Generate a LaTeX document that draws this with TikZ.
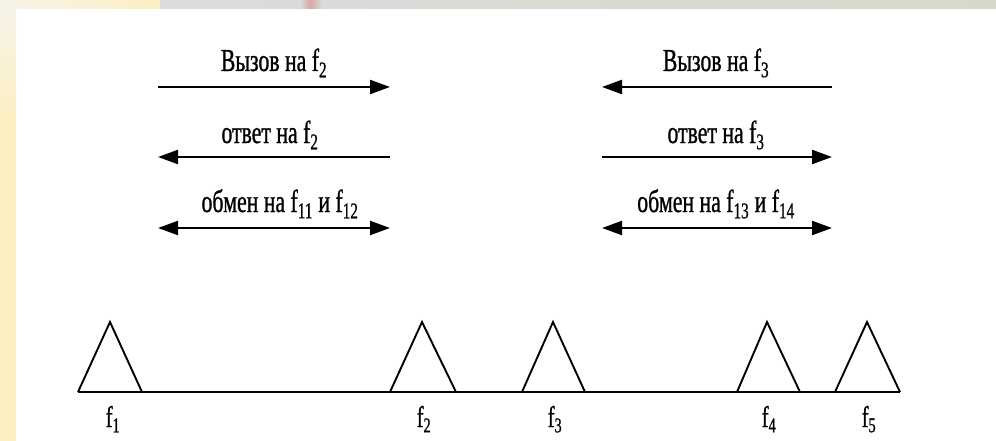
\documentclass[tikz,border=0pt]{standalone}
\usepackage{fontspec}
\setmainfont[FakeStretch=0.68,FakeBold=0.8]{Liberation Serif}
\usetikzlibrary{arrows.meta}
\definecolor{stripyellow}{HTML}{FBEFC2}
\definecolor{stripbeige}{HTML}{F7F2EA}
\definecolor{stripgrey}{HTML}{DADBDC}
\definecolor{stripred}{HTML}{D9A8A4}
\definecolor{stripgreen}{HTML}{D6D9CA}
\begin{document}
\begin{tikzpicture}[x=1pt,y=-1pt,
  msg/.style={line width=2.3pt, -{Triangle[length=20pt,width=14pt]}},
  msgboth/.style={line width=2.3pt, {Triangle[length=20pt,width=14pt]}-{Triangle[length=20pt,width=14pt]}},
  lbl/.style={anchor=base, inner sep=0pt, font=\fontsize{32}{32}\selectfont},
  flbl/.style={anchor=base, inner sep=0pt, font=\fontsize{30}{30}\selectfont},
  tri/.style={line width=1.9pt, line join=miter},
  axisline/.style={line width=2.3pt}]
\useasboundingbox (0,0) rectangle (996,441);
% background
\fill[white] (0,0) rectangle (996,441);
\fill[stripyellow] (0,0) rectangle (16,441);
\shade[left color=stripbeige, right color=stripyellow] (0,0) rectangle (160,9);
\shade[left color=stripgrey, right color=stripgreen] (160,0) rectangle (996,9);
\shade[left color=stripgrey, right color=stripred] (300,0) rectangle (310,9);
\shade[left color=stripred, right color=stripgrey] (310,0) rectangle (322,9);
\shade[top color=stripbeige, bottom color=stripyellow] (0,0) rectangle (16,120);

% arrow end points
\coordinate (l1a) at (158,87);  \coordinate (l1b) at (390,87);
\coordinate (l2a) at (158,157); \coordinate (l2b) at (390,157);
\coordinate (l3a) at (158,228); \coordinate (l3b) at (390,228);
\coordinate (r1a) at (602,87);  \coordinate (r1b) at (832,87);
\coordinate (r2a) at (602,157); \coordinate (r2b) at (832,157);
\coordinate (r3a) at (602,228); \coordinate (r3b) at (832,228);

\draw[msg] (l1a) -- (l1b);
\draw[msg] (l2b) -- (l2a);
\draw[msgboth] (l3a) -- (l3b);
\draw[msg] (r1b) -- (r1a);
\draw[msg] (r2a) -- (r2b);
\draw[msgboth] (r3a) -- (r3b);

\node[lbl] (t1) at (274,71) {Вызов на f\textsubscript{2}};
\node[lbl] (t2) at (270,143) {ответ на f\textsubscript{2}};
\node[lbl] (t3) at (280,212) {обмен на f\textsubscript{11} и f\textsubscript{12}};
\node[lbl] (u1) at (716,71) {Вызов на f\textsubscript{3}};
\node[lbl] (u2) at (716,143) {ответ на f\textsubscript{3}};
\node[lbl] (u3) at (716,212) {обмен на f\textsubscript{13} и f\textsubscript{14}};

% frequency axis
\coordinate (axL) at (78,392);
\coordinate (axR) at (900,392);
\draw[axisline] (axL) -- (axR);

\coordinate (a1) at (110,322); \coordinate (b1l) at (78,392);  \coordinate (b1r) at (142,392);
\coordinate (a2) at (422,322); \coordinate (b2l) at (390,392); \coordinate (b2r) at (456,392);
\coordinate (a3) at (553,322); \coordinate (b3l) at (522,392); \coordinate (b3r) at (585,392);
\coordinate (a4) at (767,322); \coordinate (b4l) at (737,392); \coordinate (b4r) at (800,392);
\coordinate (a5) at (867,322); \coordinate (b5l) at (835,392); \coordinate (b5r) at (900,392);
\foreach \i in {1,...,5} {
  \draw[tri] (b\i l) -- (a\i) -- (b\i r);
}

\node[flbl] (f1) at (113,427) {f\textsubscript{1}};
\node[flbl] (f2) at (424,427) {f\textsubscript{2}};
\node[flbl] (f3) at (555,427) {f\textsubscript{3}};
\node[flbl] (f4) at (769,427) {f\textsubscript{4}};
\node[flbl] (f5) at (869,427) {f\textsubscript{5}};
\end{tikzpicture}
\end{document}
